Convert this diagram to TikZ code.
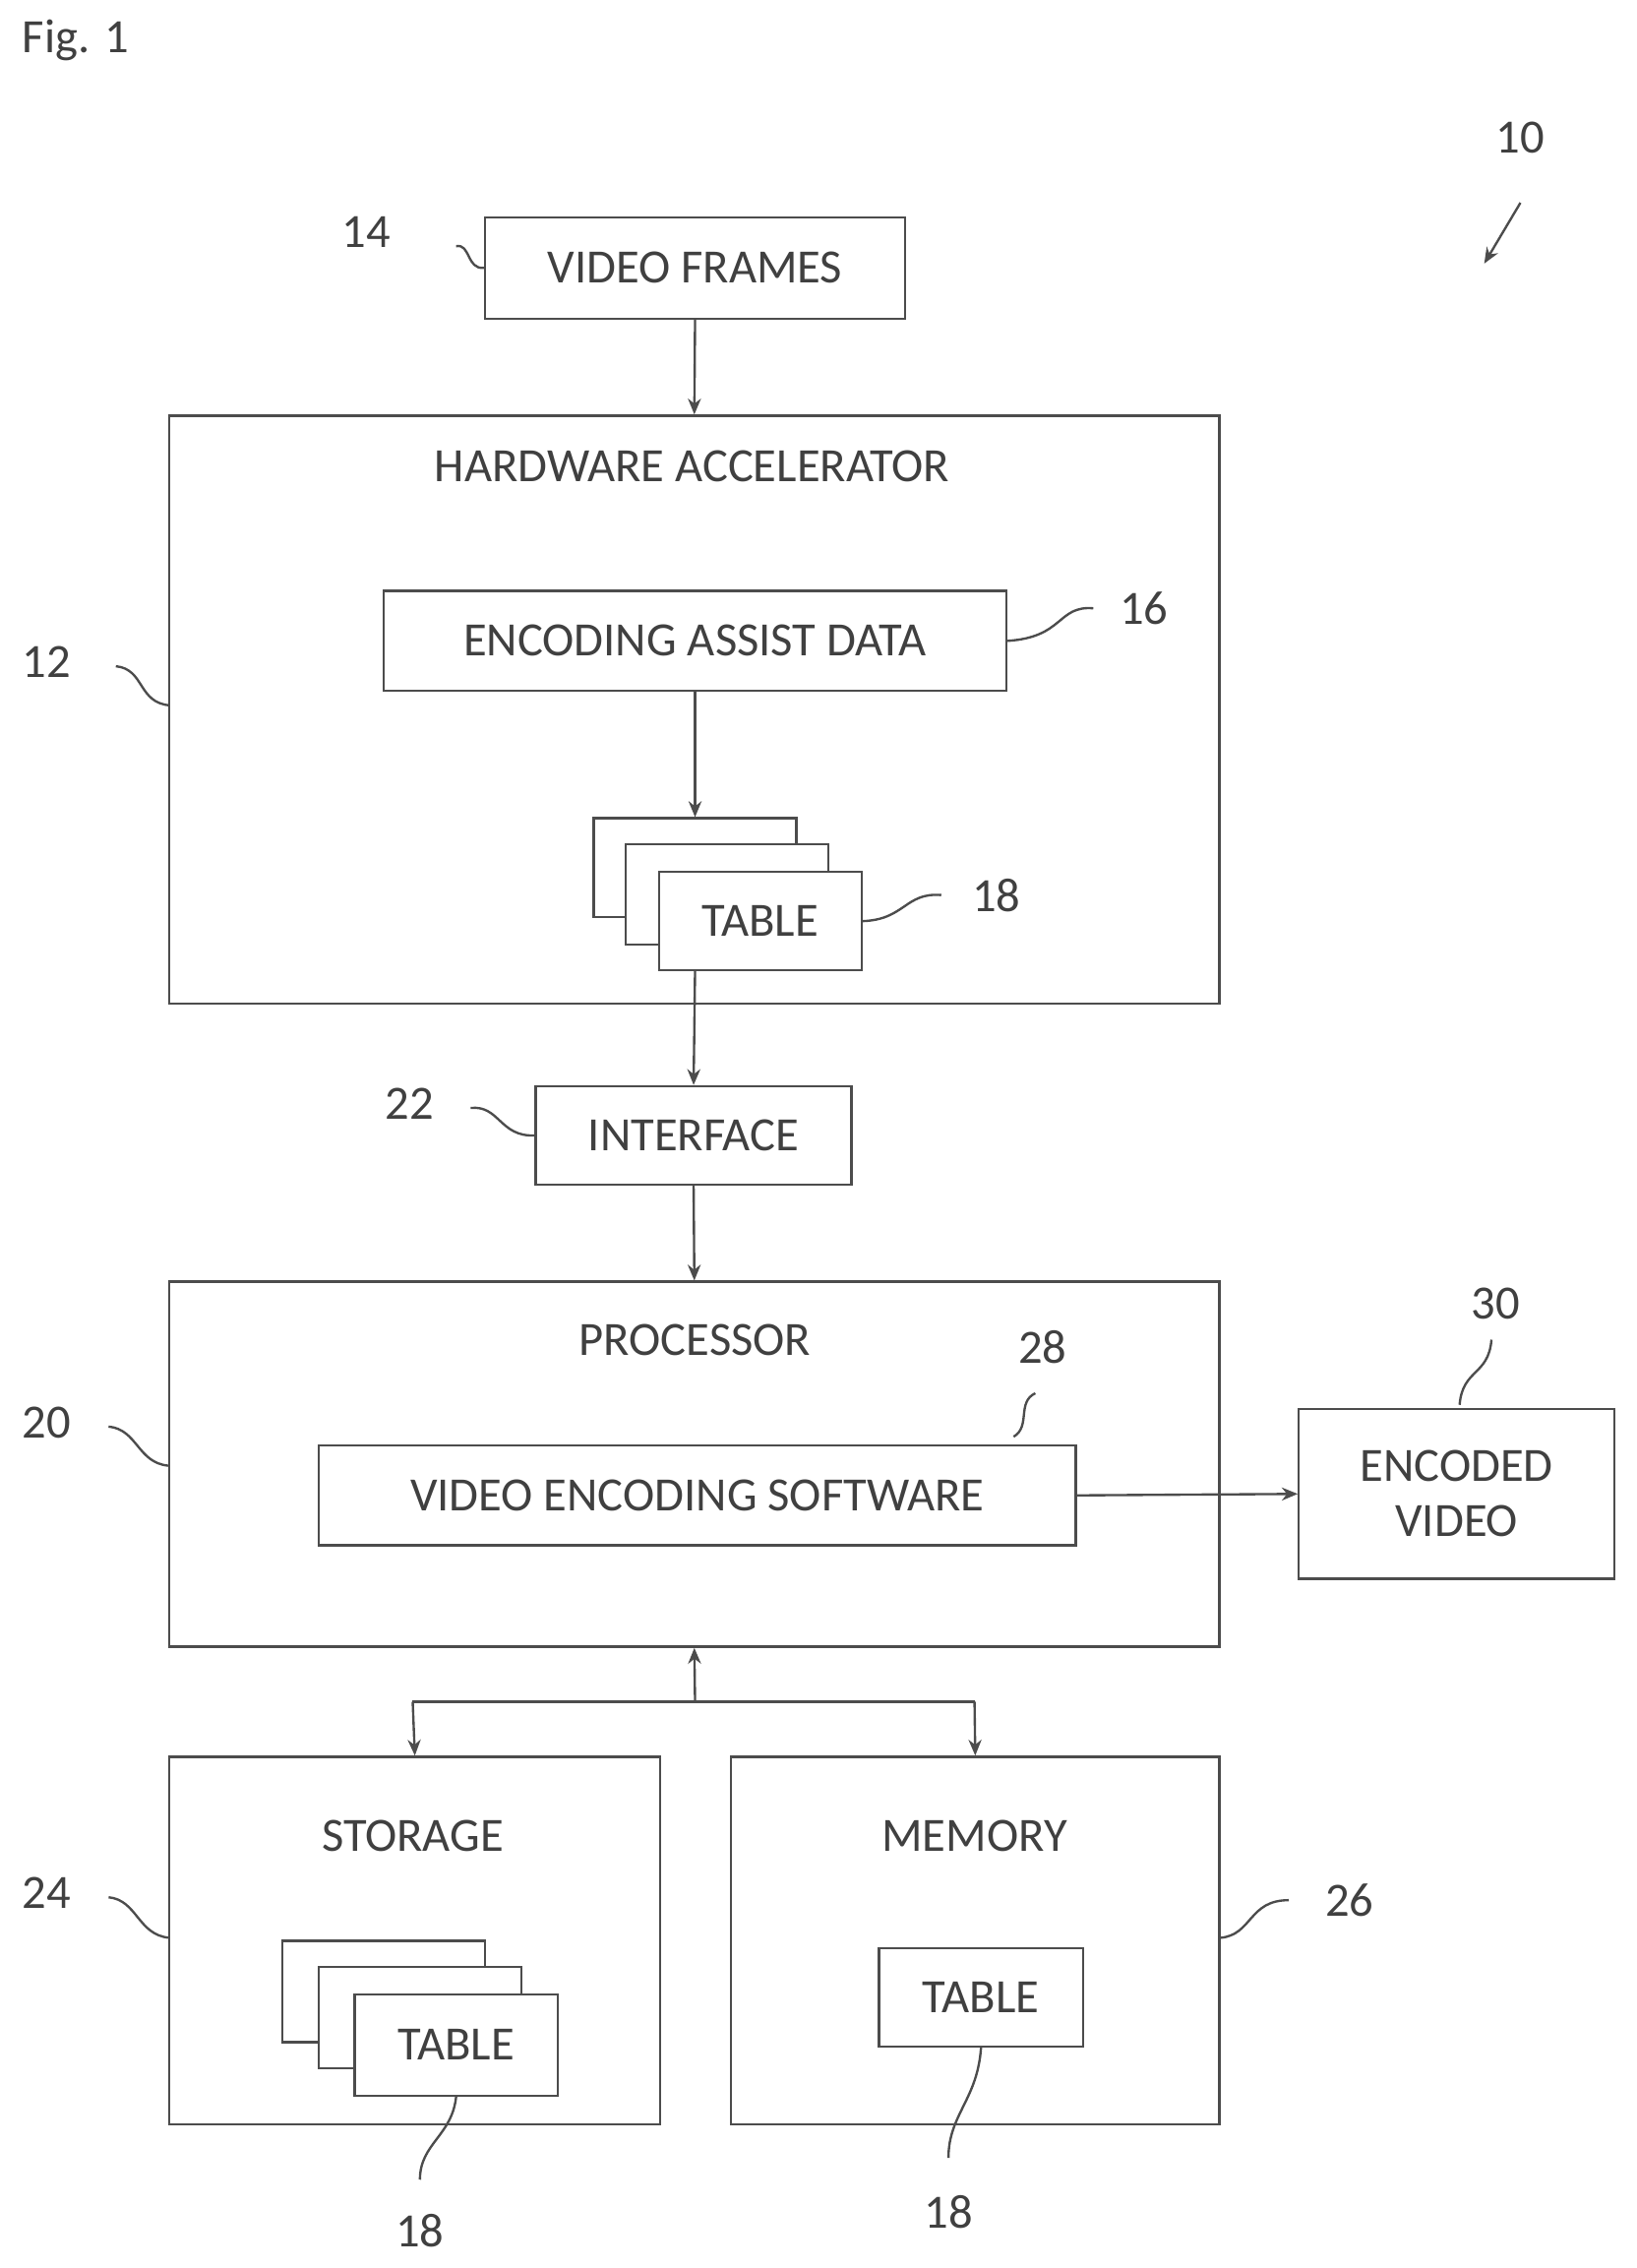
\documentclass[tikz,border=0pt]{standalone}
\usepackage{fontspec}
\setmainfont{Carlito}
\usetikzlibrary{arrows.meta}
\begin{document}
\begin{tikzpicture}[x=1pt,y=-1pt,
  every node/.style={text=black!75,font=\fontsize{33}{36}\selectfont},
  box/.style={draw=black!70,line width=1.6pt,fill=white,inner sep=0pt},
  lbl/.style={text=black!75},
  ln/.style={draw=black!70,line width=1.6pt},
  arr/.style={ln,-{Stealth[length=11pt,width=9pt]}},
  sq/.style={ln}]
\useasboundingbox (0,0) rectangle (1130,1566);
\node[anchor=west] (fig) at (12,28) {Fig. 1};
% 10
\node (n10) at (1050,95) {10};
\coordinate (a10) at (1050,140);
\coordinate (b10) at (1025,182);
\draw[arr] (a10) -- (b10);
% video frames
\node[box,minimum width=290pt,minimum height=70pt] (vf) at (480,185) {VIDEO FRAMES};
\node (n14) at (253,160) {14};
\draw[sq] (315,170) .. controls (325,168) and (322,186) .. (vf.west);
% HW accel
\node[box,minimum width=725pt,minimum height=406pt] (hw) at (479.5,490) {};
\node (hwt) at (478,322) {HARDWARE ACCELERATOR};
\node[box,minimum width=430pt,minimum height=69pt] (ead) at (480,442.5) {ENCODING ASSIST DATA};
\node (n16) at (790,420) {16};
\draw[sq] (ead.east) .. controls (735,440) and (730,418) .. (755,420);
\node[box,minimum width=140pt,minimum height=68pt] (t1a) at (480,599) {};
\node[box,minimum width=140pt,minimum height=69pt] (t1b) at (502,617.5) {};
\node[box,minimum width=140pt,minimum height=68pt] (t1) at (525,636) {TABLE};
\node (n18a) at (688,618) {18};
\draw[sq] (t1.east) .. controls (625,635) and (625,616) .. (650,618);
\node (n12) at (32,457) {12};
\draw[sq] (80,460) .. controls (100,462) and (95,485) .. (117,487);
\draw[arr] (vf.south) -- (hw.north);
\draw[arr] (ead.south) -- (t1a.north);
% interface
\node[box,minimum width=218pt,minimum height=68pt] (ifc) at (479,784) {INTERFACE};
\node (n22) at (283,762) {22};
\draw[sq] (325,765) .. controls (345,763) and (345,785) .. (ifc.west);
\draw[arr] (480,670) -- (ifc.north);
% processor
\node[box,minimum width=725pt,minimum height=252pt] (proc) at (479.5,1011) {};
\node (proct) at (480,925) {PROCESSOR};
\node[box,minimum width=523pt,minimum height=69pt] (ves) at (481.5,1032.5) {VIDEO ENCODING SOFTWARE};
\node (n28) at (720,930) {28};
\draw[sq] (700,992) .. controls (712,985) and (702,968) .. (715,962);
\draw[arr] (ifc.south) -- (proc.north);
\node[box,minimum width=218pt,minimum height=117pt,align=center] (ev) at (1006,1031.5) {ENCODED\\[2pt]VIDEO};
\draw[arr] (ves.east) -- (ev.west);
\node (n30) at (1033,900) {30};
\draw[sq] (1008,970) .. controls (1010,945) and (1028,950) .. (1030,925);
\node (n20) at (32,982) {20};
\draw[sq] (75,985) .. controls (95,987) and (95,1010) .. (proc.west |- 0,1012);
% bus
\coordinate (bus) at (480,1175);
\coordinate (busL) at (285,1175);
\coordinate (busR) at (673,1175);
\draw[arr] (bus) -- (proc.south);
\draw[ln] (busL) -- (busR);
% storage
\node[box,minimum width=339pt,minimum height=254pt] (sto) at (286.5,1340) {};
\node (stot) at (285,1268) {STORAGE};
\node[box,minimum width=140pt,minimum height=70pt] (t2a) at (265,1375) {};
\node[box,minimum width=140pt,minimum height=70pt] (t2b) at (290,1393) {};
\node[box,minimum width=140pt,minimum height=70pt] (t2) at (315,1412) {TABLE};
\node (n18b) at (290,1540) {18};
\draw[sq] (t2.south) .. controls (312,1475) and (290,1480) .. (290,1505);
\node (n24) at (32,1307) {24};
\draw[sq] (75,1310) .. controls (95,1312) and (95,1336) .. (117,1338);
% memory
\node[box,minimum width=337pt,minimum height=254pt] (mem) at (673.5,1340) {};
\node (memt) at (673,1268) {MEMORY};
\node[box,minimum width=141pt,minimum height=68pt] (t3) at (677.5,1379) {TABLE};
\node (n18c) at (655,1527) {18};
\draw[sq] (t3.south) .. controls (675,1450) and (655,1460) .. (655,1490);
\node (n26) at (932,1312) {26};
\draw[sq] (mem.east |- 0,1338) .. controls (865,1336) and (862,1312) .. (890,1312);
\draw[arr] (busL) -- (sto.north);
\draw[arr] (busR) -- (mem.north);
\end{tikzpicture}
\end{document}
